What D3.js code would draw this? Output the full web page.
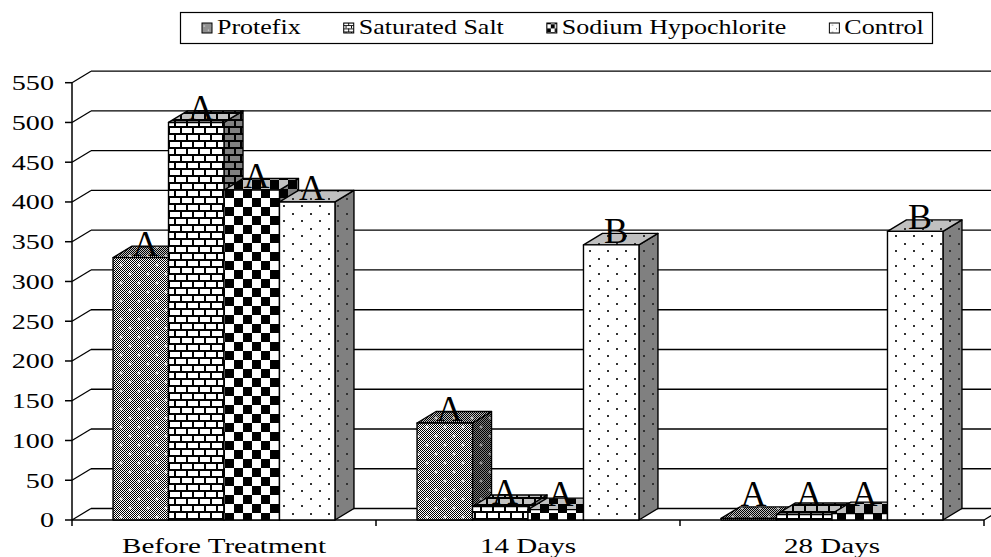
<!DOCTYPE html>
<html>
<head>
<meta charset="utf-8">
<script src="https://cdn.jsdelivr.net/npm/d3@7"></script>
<style>
  body { margin: 0; background: #fff; }
  svg { display: block; }
  text { font-family: "Times New Roman", Times, "Liberation Serif", serif; fill: #000; }
</style>
</head>
<body>
<script>
// data
const categories = ['Before Treatment', '14 Days', '28 Days'];
const series = ['Protefix', 'Saturated Salt', 'Sodium Hypochlorite', 'Control'];
const protefix = [330, 122, 2];
const saturatedSalt = [500, 17, 7];
const sodiumHypochlorite = [415, 13, 8];
const control = [400, 346, 363];
const groupLetters = [['A', 'A', 'A'], ['A', 'A', 'A'], ['A', 'A', 'A'], ['A', 'B', 'B']];
const yTicks = [0, 50, 100, 150, 200, 250, 300, 350, 400, 450, 500, 550];

const values = [protefix, saturatedSalt, sodiumHypochlorite, control];

const width = 991, height = 557;
const depthX = 19, depthY = -11.5;   // 3d depth offset
const textStretch = 1.32;            // fonts in the picture are wide

const svg = d3.select('body').append('svg')
  .attr('width', width)
  .attr('height', height);

const defs = svg.append('defs');

// fine 1px dither used by the protefix fill
let dither = (id, bg) => {
  let p = defs.append('pattern').attr('id', id)
    .attr('patternUnits', 'userSpaceOnUse').attr('width', 2).attr('height', 2);
  p.append('rect').attr('width', 2).attr('height', 2).attr('fill', bg);
  p.append('rect').attr('width', 1).attr('height', 1).attr('fill', '#000');
  p.append('rect').attr('x', 1).attr('y', 1).attr('width', 1).attr('height', 1).attr('fill', '#000');
}

// one pattern per series and shade (front / top / side)
let makePattern = (id, kind, bg, light, scale) => {
  let p = defs.append('pattern').attr('id', id).attr('patternUnits', 'userSpaceOnUse');
  if (scale) p.attr('patternTransform', 'scale(' + scale + ')');
  if (kind === 'protefix') {
    dither(id + '-d', bg);
    p.attr('width', 18).attr('height', 18);
    p.append('rect').attr('width', 18).attr('height', 18).attr('fill', 'url(#' + id + '-d)');
    [[4, 4], [13, 13]].forEach(([cx, cy]) => {
      p.append('rect').attr('x', cx - 1.5).attr('y', cy - 0.5).attr('width', 3).attr('height', 1).attr('fill', light);
      p.append('rect').attr('x', cx - 0.5).attr('y', cy - 1.5).attr('width', 1).attr('height', 3).attr('fill', light);
    });
  } else if (kind === 'brick') {
    p.attr('width', 12).attr('height', 14);
    p.append('rect').attr('width', 12).attr('height', 14).attr('fill', bg);
    p.append('rect').attr('x', 0).attr('y', 0).attr('width', 12).attr('height', 2).attr('fill', '#000');
    p.append('rect').attr('x', 0).attr('y', 7).attr('width', 12).attr('height', 2).attr('fill', '#000');
    p.append('rect').attr('x', 0).attr('y', 0).attr('width', 2).attr('height', 7).attr('fill', '#000');
    p.append('rect').attr('x', 6).attr('y', 7).attr('width', 2).attr('height', 7).attr('fill', '#000');
  } else if (kind === 'checker') {
    p.attr('width', 18).attr('height', 18);
    p.append('rect').attr('width', 18).attr('height', 18).attr('fill', bg);
    p.append('rect').attr('width', 9).attr('height', 9).attr('fill', '#000');
    p.append('rect').attr('x', 9).attr('y', 9).attr('width', 9).attr('height', 9).attr('fill', '#000');
  } else {
    p.attr('width', 18).attr('height', 15);
    p.append('rect').attr('width', 18).attr('height', 15).attr('fill', bg);
    p.append('rect').attr('x', 4).attr('y', 3).attr('width', 2).attr('height', 2).attr('fill', '#333');
    p.append('rect').attr('x', 13).attr('y', 10).attr('width', 2).attr('height', 2).attr('fill', '#333');
  }
}

const kinds = ['protefix', 'brick', 'checker', 'dots'];
kinds.forEach((k, i) => {
  makePattern('p' + i + '-front', k, '#fff', '#fff');
  makePattern('p' + i + '-top', k, '#c0c0c0', '#e0e0e0');
  makePattern('p' + i + '-side', k, '#808080', '#b0b0b0');
  makePattern('p' + i + '-legend', k, '#fff', '#fff', 0.45);
});

// scales
const y = d3.scaleLinear().domain([0, 550]).range([520, 82.7]);
const x = d3.scaleBand().domain(categories).range([72, 984]);
const xInner = d3.scaleBand().domain(series)
  .range([x.bandwidth() * 0.135, x.bandwidth() * 0.865]);

// back wall grid lines
const wall = svg.append('g').attr('stroke', '#000').attr('stroke-width', 1.3);
wall.selectAll('line.grid')
  .data(yTicks)
  .enter()
  .append('line')
    .attr('x1', 72 + depthX).attr('x2', 984 + depthX)
    .attr('y1', (d) => y(d) + depthY).attr('y2', (d) => y(d) + depthY);
wall.selectAll('line.side')
  .data(yTicks)
  .enter()
  .append('line')
    .attr('x1', 72).attr('x2', 72 + depthX)
    .attr('y1', (d) => y(d)).attr('y2', (d) => y(d) + depthY);
// floor right edge
wall.append('line')
  .attr('x1', 984).attr('y1', y(0))
  .attr('x2', 984 + depthX).attr('y2', y(0) + depthY);

// y axis
const axis = svg.append('g').attr('stroke', '#000').attr('stroke-width', 1.5);
axis.append('line').attr('x1', 72).attr('x2', 72).attr('y1', y(550)).attr('y2', y(0) + 6);
axis.append('line').attr('x1', 72).attr('x2', 984).attr('y1', y(0)).attr('y2', y(0));
axis.selectAll('line.ytick')
  .data(yTicks)
  .enter()
  .append('line')
    .attr('x1', 65).attr('x2', 72)
    .attr('y1', (d) => y(d)).attr('y2', (d) => y(d));
axis.selectAll('line.xtick')
  .data(categories.slice(1).concat(['end']))
  .enter()
  .append('line')
    .attr('x1', (d, i) => x.range()[0] + (i + 1) * x.bandwidth())
    .attr('x2', (d, i) => x.range()[0] + (i + 1) * x.bandwidth())
    .attr('y1', y(0)).attr('y2', y(0) + 6);

svg.selectAll('text.ylab')
  .data(yTicks)
  .enter()
  .append('text')
    .attr('transform', (d) => 'translate(54,' + y(d) + ') scale(1.28,1)')
    .attr('text-anchor', 'end')
    .attr('dy', '0.34em')
    .attr('font-size', '22px')
    .text((d) => d);

svg.selectAll('text.xlab')
  .data(categories)
  .enter()
  .append('text')
    .attr('transform', (d) => 'translate(' + (x(d) + x.bandwidth() / 2) + ',553) scale(' + textStretch + ',1)')
    .attr('text-anchor', 'middle')
    .attr('font-size', '22px')
    .text((d) => d);

// bars
const bars = svg.append('g')
  .attr('stroke', '#000').attr('stroke-width', 1.4).attr('stroke-linejoin', 'round');
categories.forEach((cat, ci) => {
  series.forEach((s, si) => {
    let v = values[si][ci];
    let x0 = x(cat) + xInner(s);
    let w = xInner.bandwidth();
    let yt = y(v), yb = y(0);
    bars.append('polygon')
      .attr('points', [[x0 + w, yt], [x0 + w + depthX, yt + depthY], [x0 + w + depthX, yb + depthY], [x0 + w, yb]].join(' '))
      .attr('fill', 'url(#p' + si + '-side)');
    bars.append('polygon')
      .attr('points', [[x0, yt], [x0 + depthX, yt + depthY], [x0 + w + depthX, yt + depthY], [x0 + w, yt]].join(' '))
      .attr('fill', 'url(#p' + si + '-top)');
    bars.append('rect')
      .attr('x', x0).attr('y', yt)
      .attr('width', w).attr('height', yb - yt)
      .attr('fill', 'url(#p' + si + '-front)');
  });
});

// significance letters
categories.forEach((cat, ci) => {
  series.forEach((s, si) => {
    let v = values[si][ci];
    svg.append('text')
      .attr('x', x(cat) + xInner(s) + xInner.bandwidth() / 2 + depthX / 4)
      .attr('y', Math.min(y(v) - 2, y(0) - 14))
      .attr('text-anchor', 'middle')
      .attr('font-size', '36px')
      .text(groupLetters[si][ci]);
  });
});

// legend
const legend = svg.append('g').attr('id', 'legend');
legend.append('rect')
  .attr('x', 180.5).attr('y', 12.5).attr('width', 752).attr('height', 31)
  .attr('fill', '#fff').attr('stroke', '#000').attr('stroke-width', 1.2);
let lx = 202;
series.forEach((s, si) => {
  legend.append('rect')
    .attr('x', lx).attr('y', 23).attr('width', 10).attr('height', 10)
    .attr('fill', 'url(#p' + si + '-legend)')
    .attr('stroke', '#000').attr('stroke-width', 1);
  let t = legend.append('text')
    .attr('transform', 'translate(' + (lx + 15) + ',34) scale(1.3,1)')
    .attr('font-size', '20px')
    .text(s);
  lx += 15 + t.node().getComputedTextLength() * 1.3 + 43;
});
</script>
</body>
</html>
